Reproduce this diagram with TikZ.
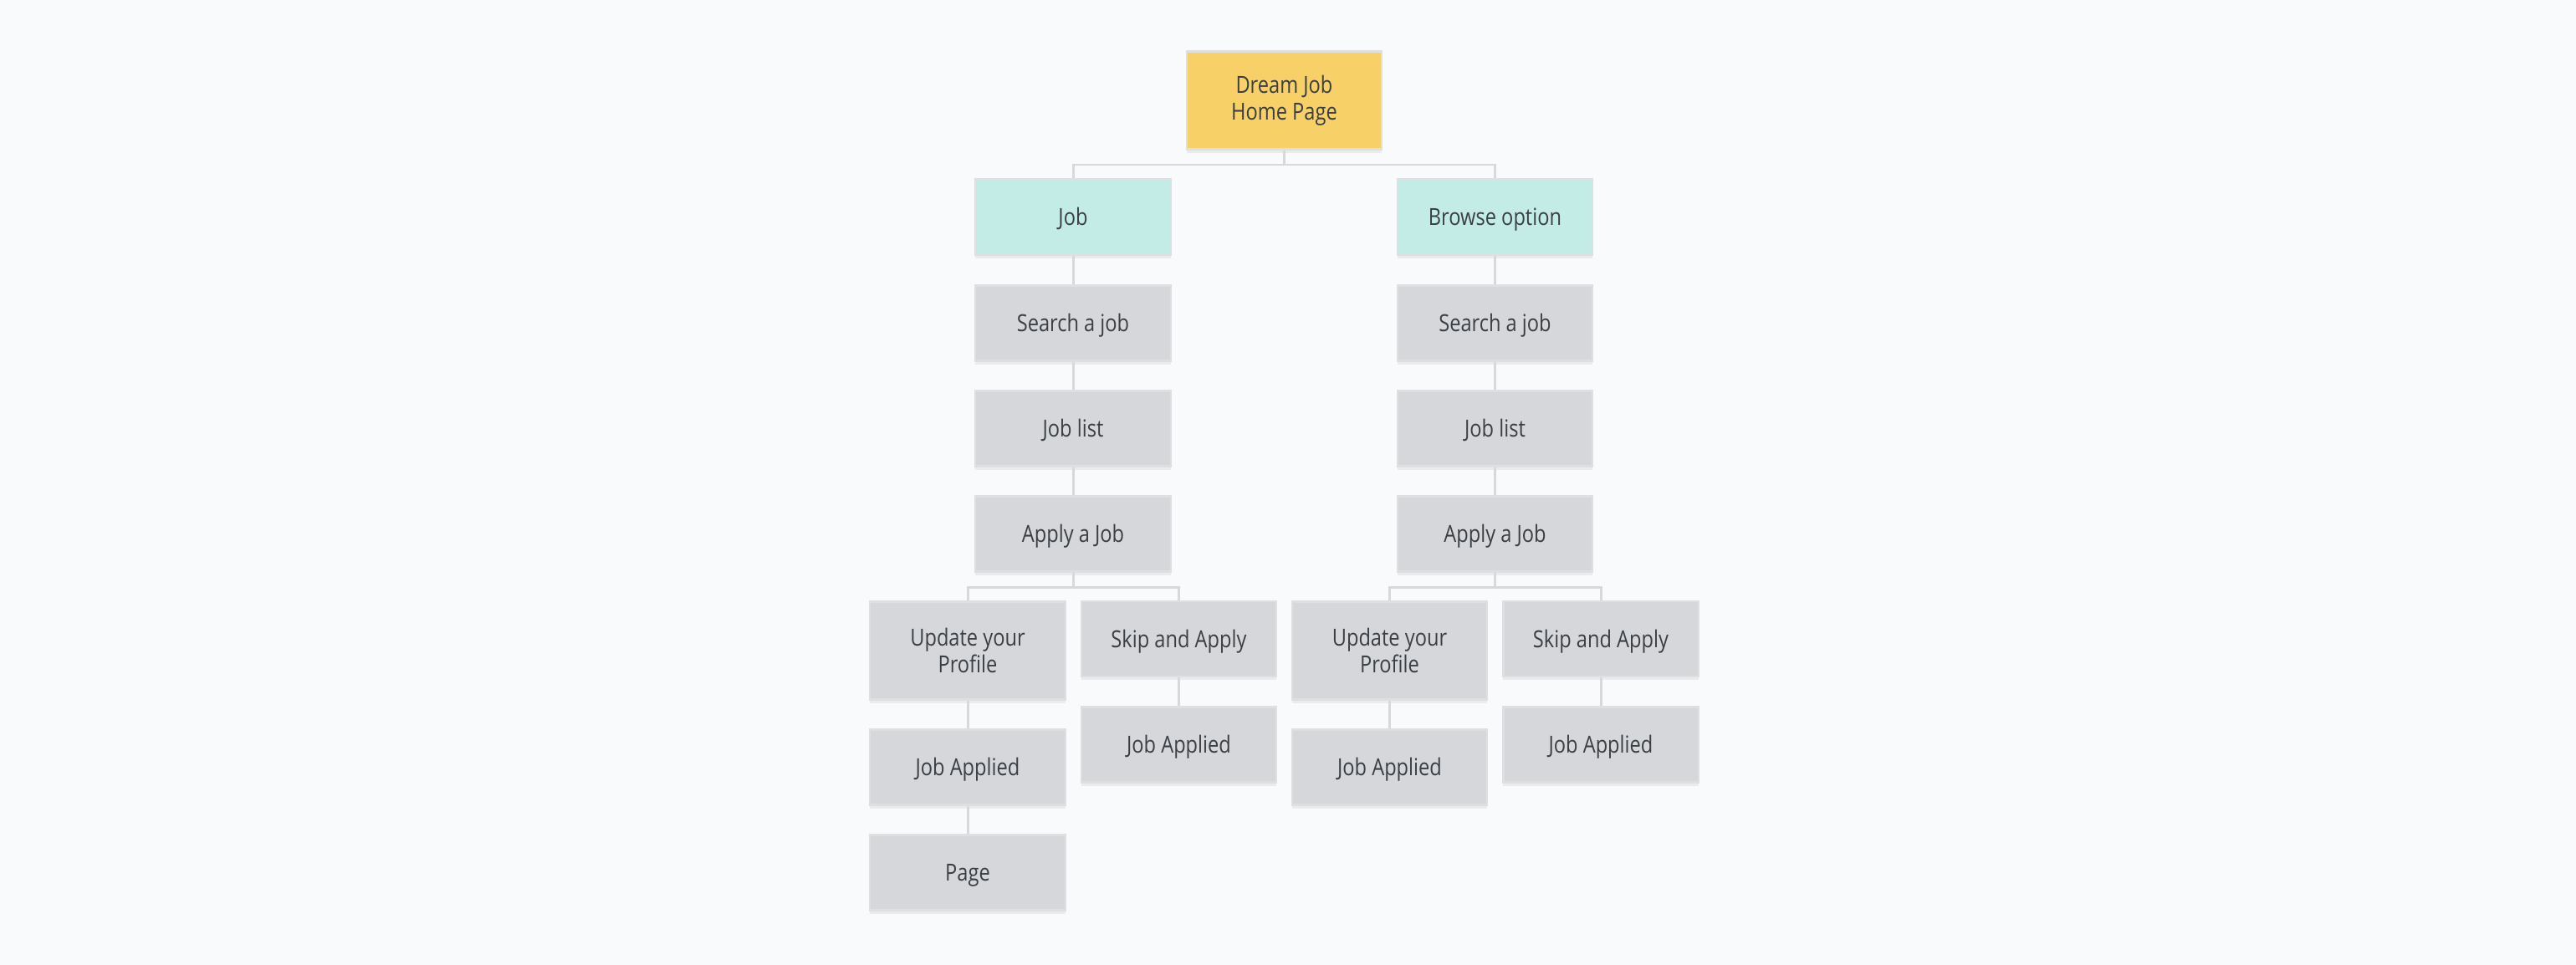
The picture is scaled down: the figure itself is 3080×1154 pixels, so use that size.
\documentclass[tikz,border=0pt]{standalone}
\usepackage{fontspec}
\setmainfont{Open Sans}[FakeStretch=0.84]
\usetikzlibrary{shadows}
\definecolor{bg}{HTML}{F9FAFB}
\definecolor{txt}{HTML}{3A3F45}
\definecolor{yel}{HTML}{F7D068}
\definecolor{teal}{HTML}{C4ECE6}
\definecolor{gry}{HTML}{D5D7DA}
\definecolor{edge}{HTML}{DEDFE0}
\definecolor{conn}{HTML}{D7D8DA}
\tikzset{
  box/.style={rectangle, minimum width=2.33cm, minimum height=0.9cm, inner sep=0pt,
    align=center, font=\fontsize{8}{9}\selectfont, text=txt, draw=edge, line width=0.6pt,
    text height=5.7pt, text depth=0pt,
    drop shadow={opacity=0.12, shadow xshift=0pt, shadow yshift=-1.2pt}},
  tall/.style={minimum height=1.17cm, text height=, text depth=},
  graybox/.style={box, fill=gry},
  link/.style={draw=conn, line width=0.85pt}
}
\begin{document}
\begin{tikzpicture}[x=0.01cm,y=-0.01cm]
\fill[bg] (0,0) rectangle (3080,1154);
\useasboundingbox (0,0) rectangle (3080,1154);

\coordinate (b0) at (1535.5,197);
\coordinate (bl) at (1283,702);
\coordinate (br) at (1787.5,702);

\node[box, tall, fill=yel] (dream) at (1535.5,120) {Dream Job\\Home Page};
\node[box, fill=teal] (job) at (1283,259.5) {Job};
\node[box, fill=teal] (browse) at (1787.5,259.5) {Browse option};

\node[graybox] (s1) at (1283,386.5) {Search a job};
\node[graybox] (l1) at (1283,512.5) {Job list};
\node[graybox] (a1) at (1283,638.5) {Apply a Job};
\node[graybox] (s2) at (1787.5,386.5) {Search a job};
\node[graybox] (l2) at (1787.5,512.5) {Job list};
\node[graybox] (a2) at (1787.5,638.5) {Apply a Job};

\node[graybox, tall] (u1) at (1157,778) {Update your\\Profile};
\node[graybox] (k1) at (1409.5,764) {Skip and Apply};
\node[graybox] (ja1) at (1157,917.5) {Job Applied};
\node[graybox] (p1) at (1157,1043.5) {Page};
\node[graybox] (jb1) at (1409.5,890.5) {Job Applied};

\node[graybox, tall] (u2) at (1661.5,778) {Update your\\Profile};
\node[graybox] (k2) at (1914,764) {Skip and Apply};
\node[graybox] (ja2) at (1661.5,917.5) {Job Applied};
\node[graybox] (jb2) at (1914,890.5) {Job Applied};

\path[link] (dream.south) -- (b0);
\path[link] (job.north) |- (b0) -| (browse.north);
\path[link] (job) -- (s1);
\path[link] (s1) -- (l1);
\path[link] (l1) -- (a1);
\path[link] (browse) -- (s2);
\path[link] (s2) -- (l2);
\path[link] (l2) -- (a2);

\path[link] (a1.south) -- (bl);
\path[link] (u1.north) |- (bl) -| (k1.north);
\path[link] (u1) -- (ja1);
\path[link] (ja1) -- (p1);
\path[link] (k1) -- (jb1);

\path[link] (a2.south) -- (br);
\path[link] (u2.north) |- (br) -| (k2.north);
\path[link] (u2) -- (ja2);
\path[link] (k2) -- (jb2);
\end{tikzpicture}
\end{document}
